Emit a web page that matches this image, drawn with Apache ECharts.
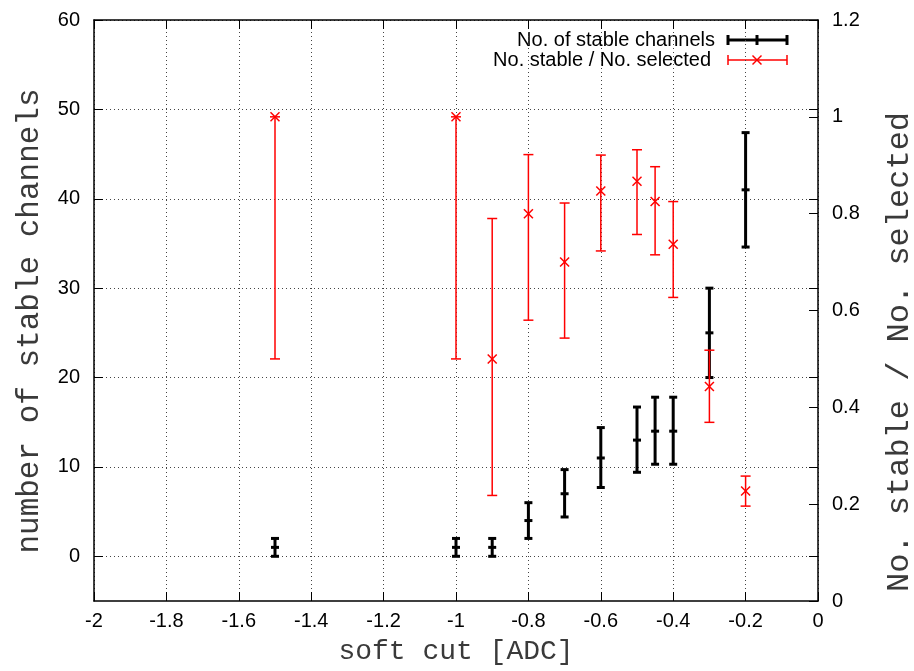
<!DOCTYPE html>
<html>
<head>
<meta charset="utf-8">
<script src="https://cdn.jsdelivr.net/npm/echarts@6/dist/echarts.min.js"></script>
<style>
html,body{margin:0;padding:0;background:#fff;}
#chart{width:914px;height:671px;}
</style>
</head>
<body>
<div id="chart"></div>
<script>
// ---- data ----
var softCut = [-1.5, -1, -0.9, -0.8, -0.7, -0.6, -0.5, -0.45, -0.4, -0.3, -0.2];
var stable = [1, 1, 1, 4, 7, 11, 13, 14, 14, 25, 41];
var stableLow = [0, 0, 0, 2, 4.4, 7.7, 9.4, 10.3, 10.3, 20, 34.6];
var stableHigh = [2, 2, 2, 6, 9.7, 14.4, 16.7, 17.8, 17.8, 30, 47.4];
var ratio = [1.0, 1.0, 0.5, 0.80, 0.70, 0.847, 0.867, 0.825, 0.737, 0.443, 0.227];
var ratioLow = [0.5, 0.5, 0.218, 0.58, 0.543, 0.723, 0.757, 0.715, 0.627, 0.369, 0.196];
var ratioHigh = [1.0, 1.0, 0.79, 0.922, 0.822, 0.921, 0.932, 0.897, 0.825, 0.518, 0.258];
var leftTicks = [0, 10, 20, 30, 40, 50, 60];
var seriesNames = ['No. of stable channels', 'No. stable / No. selected'];
var xTitle = 'soft cut [ADC]';
var yTitle = 'number of stable channels';
var y2Title = 'No. stable / No. selected';

var stableData = softCut.map(function (x, i) { return [x, stable[i], stableLow[i], stableHigh[i]]; });
var ratioData = softCut.map(function (x, i) { return [x, ratio[i], ratioLow[i], ratioHigh[i]]; });

var chart = echarts.init(document.getElementById('chart'));
var sansFont = '"Liberation Sans", Arial, sans-serif';
var monoFont = '"Liberation Mono", "Courier New", monospace';
var gridLine = { show: true, lineStyle: { color: '#444', width: 1, type: [1, 3] } };
var tickStyle = { color: '#000', width: 1 };
var titleColor = '#3a3a3a';

function errRender(color, lw, capHalf, marker) {
  return function (params, api) {
    var x = api.value(0);
    var c = api.coord([x, api.value(1)]);
    var lo = api.coord([x, api.value(2)]);
    var hi = api.coord([x, api.value(3)]);
    var st = { stroke: color, lineWidth: lw, fill: null };
    var ch = [
      { type: 'line', shape: { x1: c[0], y1: lo[1], x2: c[0], y2: hi[1] }, style: st },
      { type: 'line', shape: { x1: c[0] - capHalf, y1: lo[1], x2: c[0] + capHalf, y2: lo[1] }, style: st },
      { type: 'line', shape: { x1: c[0] - capHalf, y1: hi[1], x2: c[0] + capHalf, y2: hi[1] }, style: st }
    ];
    if (marker === 'x') {
      var m = 4.5;
      ch.push({ type: 'line', shape: { x1: c[0] - m, y1: c[1] - m, x2: c[0] + m, y2: c[1] + m }, style: st });
      ch.push({ type: 'line', shape: { x1: c[0] - m, y1: c[1] + m, x2: c[0] + m, y2: c[1] - m }, style: st });
    } else {
      ch.push({ type: 'line', shape: { x1: c[0] - capHalf, y1: c[1], x2: c[0] + capHalf, y2: c[1] }, style: st });
    }
    return { type: 'group', children: ch };
  };
}

var option = {
  animation: false,
  backgroundColor: '#fff',
  grid: { left: 94, right: 96, top: 20, bottom: 70 },
  xAxis: [{
    type: 'value', min: -2, max: 0, interval: 0.2, position: 'bottom',
    axisLine: { show: true, onZero: false, lineStyle: { color: '#000', width: 1.5 } },
    axisTick: { show: true, inside: true, length: 9, lineStyle: tickStyle },
    axisLabel: { color: '#000', fontFamily: sansFont, fontSize: 20, margin: 10,
      formatter: function (v) { return String(Math.round(v * 10) / 10); } },
    splitLine: gridLine
  }, {
    type: 'value', min: -2, max: 0, interval: 0.2, position: 'top',
    axisLine: { show: true, onZero: false, lineStyle: { color: '#000', width: 1.5 } },
    axisTick: { show: true, inside: true, length: 9, lineStyle: tickStyle },
    axisLabel: { show: false }, splitLine: { show: false }
  }],
  yAxis: [{
    type: 'value', min: -5, max: 60, position: 'left',
    axisLine: { show: true, onZero: false, lineStyle: { color: '#000', width: 1.5 } },
    axisTick: { show: true, inside: true, length: 9, customValues: leftTicks, lineStyle: tickStyle },
    axisLabel: { color: '#000', fontFamily: sansFont, fontSize: 20, margin: 14, customValues: leftTicks },
    splitLine: gridLine
  }, {
    type: 'value', min: 0, max: 1.2, interval: 0.2, position: 'right',
    axisLine: { show: true, onZero: false, lineStyle: { color: '#000', width: 1.5 } },
    axisTick: { show: true, inside: true, length: 9, lineStyle: tickStyle },
    axisLabel: { color: '#000', fontFamily: sansFont, fontSize: 20, margin: 14,
      formatter: function (v) { return String(Math.round(v * 10) / 10); } },
    splitLine: { show: false }
  }, {
    type: 'value', min: -5, max: 60, position: 'right',
    axisLine: { show: false, onZero: false },
    axisTick: { show: true, inside: true, length: 9, customValues: leftTicks, lineStyle: tickStyle },
    axisLabel: { show: false }, splitLine: { show: false }
  }],
  series: [{
    name: seriesNames[0], type: 'custom', xAxisIndex: 0, yAxisIndex: 0,
    renderItem: errRender('#000', 3, 4, 'bar'),
    encode: { x: 0, y: [1, 2, 3] },
    data: stableData, z: 2
  }, {
    name: seriesNames[1], type: 'custom', xAxisIndex: 0, yAxisIndex: 1,
    renderItem: errRender('#ff0000', 1.5, 5, 'x'),
    encode: { x: 0, y: [1, 2, 3] },
    data: ratioData, z: 3
  }],
  graphic: [
    { type: 'text', x: 456, y: 652, style: { text: xTitle, font: '28px ' + monoFont, fill: titleColor, textAlign: 'center', textVerticalAlign: 'middle' } },
    { type: 'text', x: 30, y: 321, rotation: Math.PI / 2, style: { text: yTitle, font: '31px ' + monoFont, fill: titleColor, textAlign: 'center', textVerticalAlign: 'middle' } },
    { type: 'text', x: 900, y: 352, rotation: Math.PI / 2, style: { text: y2Title, font: '32px ' + monoFont, fill: titleColor, textAlign: 'center', textVerticalAlign: 'middle' } },
    { type: 'text', x: 715, y: 40, style: { text: seriesNames[0], font: '20px ' + sansFont, fill: '#000', textAlign: 'right', textVerticalAlign: 'middle' } },
    { type: 'text', x: 711, y: 60, style: { text: seriesNames[1], font: '20px ' + sansFont, fill: '#000', textAlign: 'right', textVerticalAlign: 'middle' } },
    { type: 'group', children: [
      { type: 'line', shape: { x1: 728, y1: 40, x2: 787, y2: 40 }, style: { stroke: '#000', lineWidth: 3 } },
      { type: 'line', shape: { x1: 728, y1: 35, x2: 728, y2: 45 }, style: { stroke: '#000', lineWidth: 3 } },
      { type: 'line', shape: { x1: 787, y1: 35, x2: 787, y2: 45 }, style: { stroke: '#000', lineWidth: 3 } },
      { type: 'line', shape: { x1: 757, y1: 35, x2: 757, y2: 45 }, style: { stroke: '#000', lineWidth: 3 } },
      { type: 'line', shape: { x1: 728, y1: 60, x2: 787, y2: 60 }, style: { stroke: '#ff0000', lineWidth: 1.5 } },
      { type: 'line', shape: { x1: 728, y1: 55, x2: 728, y2: 65 }, style: { stroke: '#ff0000', lineWidth: 1.5 } },
      { type: 'line', shape: { x1: 787, y1: 55, x2: 787, y2: 65 }, style: { stroke: '#ff0000', lineWidth: 1.5 } },
      { type: 'line', shape: { x1: 752.5, y1: 55.5, x2: 761.5, y2: 64.5 }, style: { stroke: '#ff0000', lineWidth: 1.5 } },
      { type: 'line', shape: { x1: 752.5, y1: 64.5, x2: 761.5, y2: 55.5 }, style: { stroke: '#ff0000', lineWidth: 1.5 } }
    ] }
  ]
};
chart.setOption(option);
</script>
</body>
</html>
